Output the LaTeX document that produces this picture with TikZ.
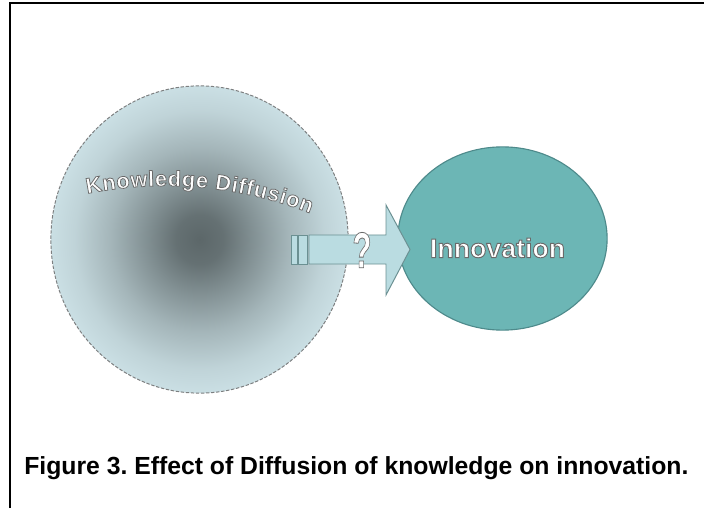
\documentclass[tikz,border=0pt]{standalone}
\usepackage{fontspec}
\setmainfont{Liberation Sans}
\newfontfamily\kdstroke{Liberation Sans Bold}[FakeBold=3.5]
\newfontfamily\qstroke{Liberation Sans Bold}[FakeBold=1.6]
\usetikzlibrary{shapes.geometric,decorations.text}

\definecolor{kdpale}{HTML}{CDE2E7}
\definecolor{kdcore}{HTML}{5C6769}
\definecolor{kddash}{HTML}{7D7F80}
\definecolor{innofill}{HTML}{6CB6B5}
\definecolor{innoline}{HTML}{4E8A8B}
\definecolor{arrowfill}{HTML}{BADCE1}
\definecolor{arrowline}{HTML}{6B9092}
\definecolor{textline}{HTML}{6A6A6A}
\pgfdeclareradialshading{kdglow}{\pgfpoint{0bp}{0bp}}{color(0bp)=(kdcore); color(4bp)=(kdcore!92!kdpale); color(9bp)=(kdcore!66!kdpale); color(15bp)=(kdcore!36!kdpale); color(21bp)=(kdcore!12!kdpale); color(26bp)=(kdpale); color(50bp)=(kdpale)}
\newcommand{\kdfont}{\kdstroke\fontsize{15.5}{16}\selectfont\color{white}\pgfsetstrokecolor{textline}\kern0.4pt}

\begin{document}
\begin{tikzpicture}[x=0.025cm,y=0.025cm,
    pool/.style={ellipse,draw=kddash,dash pattern=on 2.4pt off 1.2pt,line width=0.7pt,shading=kdglow,inner sep=0pt},
    goal/.style={ellipse,draw=innoline,fill=innofill,line width=0.8pt,inner sep=0pt},
    block/.style={draw=arrowline,fill=arrowfill,line width=0.7pt},
    caption/.style={font=\bfseries\fontsize{17.6}{21}\selectfont,anchor=base west,inner sep=0pt}]

    \useasboundingbox (0,0) rectangle (704,508);
    \draw[line width=1.6pt] (10.2,0) -- (10.2,505) -- (704,505);

    \node[pool, minimum width=7.43cm, minimum height=7.68cm] (diffusion) at (199.5,268.5) {};
    \node[goal, minimum width=5.23cm, minimum height=4.58cm] (innovation) at (502.5,269.5) {};

    \draw[block] (291,244) rectangle (297,273);
    \draw[block] (298.5,244) rectangle (307,273);
    \draw[block] (309,244) -- (386,244) -- (386,213) -- (410,258.5) -- (386,303) -- (386,273) -- (309,273) -- cycle;

    \node[text=white, font=\qstroke\fontsize{36}{36}\selectfont, xscale=0.62, inner sep=0pt] (query) at (362,258) {\pgfsetstrokecolor{textline}?};
    \node[text=white, font=\kdstroke\fontsize{19}{19}\selectfont, inner sep=0pt] (innolabel) at (497.5,260) {\pgfsetstrokecolor{textline}Innovation};

    \path[decorate, decoration={text along path, text={|\kdfont|Knowledge Diffusion}, text align=center}] (75,311.7) arc[start angle=103, end angle=67, radius=10cm];

    \node[caption] (caption) at (24,34) {\frenchspacing Figure 3. Effect of Diffusion of knowledge on innovation.};
\end{tikzpicture}
\end{document}
